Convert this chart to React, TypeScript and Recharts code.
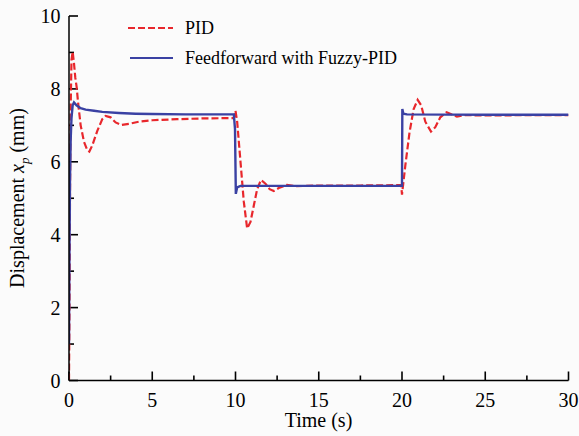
import React from 'react';
import { LineChart, Line, XAxis, YAxis, ReferenceLine } from 'recharts';

// time (s), displacement (mm)
const pidTime = [
  0, 0.03, 0.06, 0.1, 0.15, 0.22, 0.3, 0.38, 0.46, 0.55, 0.7, 0.9, 1.1, 1.22, 1.4, 1.7, 2.0, 2.2, 2.5, 2.8,
  3.16, 3.6, 4.2, 5, 6.5, 8, 9.9, 10.0, 10.1, 10.3, 10.5, 10.7, 10.9, 11.1, 11.3, 11.53, 11.8, 12.05, 12.3,
  12.6, 13.1, 13.6, 15, 17.5, 19.95, 20.0, 20.2, 20.45, 20.7, 20.94, 21.15, 21.4, 21.74, 22.0, 22.3, 22.68,
  23.0, 23.3, 23.8, 25, 27.5, 30,
];
const pidValue = [
  0, 2.0, 5.0, 7.5, 8.8, 9.02, 8.7, 8.3, 8.05, 7.6, 7.0, 6.55, 6.32, 6.28, 6.45, 6.85, 7.17, 7.26, 7.22, 7.08,
  7.01, 7.04, 7.1, 7.14, 7.17, 7.19, 7.2, 7.4, 7.1, 6.0, 4.9, 4.17, 4.35, 4.8, 5.25, 5.5, 5.4, 5.25, 5.2,
  5.28, 5.37, 5.33, 5.35, 5.35, 5.36, 5.1, 5.9, 6.8, 7.45, 7.7, 7.55, 7.1, 6.83, 6.95, 7.22, 7.36,
  7.3, 7.24, 7.28, 7.27, 7.28, 7.28,
];

const fuzzyTime = [
  0, 0.02, 0.06, 0.1, 0.15, 0.22, 0.3, 0.45, 0.7, 1.0, 1.5, 2.0, 3.0, 4.0, 5, 7, 9.9, 9.97, 10.02, 10.1,
  10.3, 12, 15, 19.95, 20.0, 20.02, 20.08, 20.3, 25, 30,
];
const fuzzyValue = [
  1.0, 3.0, 5.5, 6.6, 7.2, 7.55, 7.63, 7.55, 7.47, 7.43, 7.4, 7.37, 7.34, 7.32, 7.31, 7.3, 7.3, 6.9, 5.12, 5.3,
  5.34, 5.34, 5.34, 5.34, 5.34, 7.45, 7.32, 7.3, 7.29, 7.29,
];

const yTicks = [0, 1, 2, 3, 4, 5, 6, 7, 8, 9, 10];
const xTicks = [0, 2.5, 5, 7.5, 10, 12.5, 15, 17.5, 20, 22.5, 25, 27.5, 30];

const pidData = pidTime.map((t, i) => ({ t, v: pidValue[i] }));
const fuzzyData = fuzzyTime.map((t, i) => ({ t, v: fuzzyValue[i] }));

const FONT = '"Liberation Serif", "Times New Roman", serif';
const RED = '#e8272c';
const BLUE = '#3a41a3';

// inward tick lengths in axis units (~9px major, ~5px minor)
const X_PER_PX = 30 / 499.5;
const Y_PER_PX = 10 / 364.5;
const isMajorY = (v: number) => v % 2 === 0;
const isMajorX = (v: number) => v % 5 === 0;

const YTick = (props: any) => {
  const { x, y, payload } = props;
  if (!isMajorY(payload.value)) return <g />;
  return (
    <text x={Number(x) - 8.5} y={y} dy="0.35em" textAnchor="end" fontFamily={FONT} fontSize={20} fill="#000">
      {payload.value}
    </text>
  );
};

const XTick = (props: any) => {
  const { x, y, payload } = props;
  if (!isMajorX(payload.value)) return <g />;
  return (
    <text x={x} y={Number(y) + 26.5} textAnchor="middle" fontFamily={FONT} fontSize={20} fill="#000">
      {payload.value}
    </text>
  );
};

const ChartLegend = () => (
  <div style={{ position: 'absolute', left: 128, top: 13, fontFamily: FONT, fontSize: 18, color: '#000' }}>
    <div style={{ display: 'flex', alignItems: 'center', height: 30 }}>
      <svg width={57} height={10}>
        <line x1={0} y1={5} x2={45} y2={5} stroke={RED} strokeWidth={2} strokeDasharray="7 3" />
      </svg>
      <span>PID</span>
    </div>
    <div style={{ display: 'flex', alignItems: 'center', height: 30 }}>
      <svg width={57} height={10}>
        <line x1={2} y1={5} x2={45} y2={5} stroke={BLUE} strokeWidth={2} />
      </svg>
      <span>Feedforward with Fuzzy-PID</span>
    </div>
  </div>
);

const renderYLabel = () => (
  <text transform="translate(24,198) rotate(-90)" textAnchor="middle" fontFamily={FONT} fontSize={20} fill="#000">
    Displacement <tspan fontStyle="italic">x</tspan>
    <tspan fontStyle="italic" fontSize={13} dy={5}>p</tspan>
    <tspan dy={-5}> (mm)</tspan>
  </text>
);

const renderXLabel = () => (
  <text x={318.5} y={427} textAnchor="middle" fontFamily={FONT} fontSize={20} fill="#000">
    Time (s)
  </text>
);

export default function App() {
  return (
    <div style={{ position: 'absolute', left: 0, top: 0, width: 579, height: 436, background: '#fbfbfb' }}>
      <LineChart width={579} height={436} margin={{ top: 16, right: 10.5, bottom: 25.5, left: 19 }}>
        <XAxis
          type="number"
          dataKey="t"
          domain={[0, 30]}
          ticks={xTicks}
          interval={0}
          tickSize={0}
          tickMargin={0}
          tickLine={false}
          tick={<XTick />}
          height={30}
          axisLine={{ stroke: '#000', strokeWidth: 1.5 }}
          allowDataOverflow
          label={renderXLabel}
        />
        <YAxis
          type="number"
          dataKey="v"
          domain={[0, 10]}
          ticks={yTicks}
          interval={0}
          tickSize={0}
          tickMargin={0}
          tickLine={false}
          tick={<YTick />}
          width={50}
          axisLine={{ stroke: '#000', strokeWidth: 1.5 }}
          allowDataOverflow
          label={renderYLabel}
        />
        {xTicks.map((t) => (
          <ReferenceLine
            key={`xt${t}`}
            segment={[{ x: t, y: 0 }, { x: t, y: (isMajorX(t) ? 9 : 5) * Y_PER_PX }]}
            stroke="#000"
            strokeWidth={1.6}
            ifOverflow="visible"
          />
        ))}
        {yTicks.map((v) => (
          <ReferenceLine
            key={`yt${v}`}
            segment={[{ x: 0, y: v }, { x: (isMajorY(v) ? 9 : 5) * X_PER_PX, y: v }]}
            stroke="#000"
            strokeWidth={1.6}
            ifOverflow="visible"
          />
        ))}
        <Line
          data={pidData}
          dataKey="v"
          type="linear"
          stroke={RED}
          strokeWidth={2.2}
          strokeDasharray="7 3"
          dot={false}
          isAnimationActive={false}
        />
        <Line
          data={fuzzyData}
          dataKey="v"
          type="linear"
          stroke={BLUE}
          strokeWidth={2.4}
          dot={false}
          isAnimationActive={false}
        />
      </LineChart>
      <ChartLegend />
    </div>
  );
}
